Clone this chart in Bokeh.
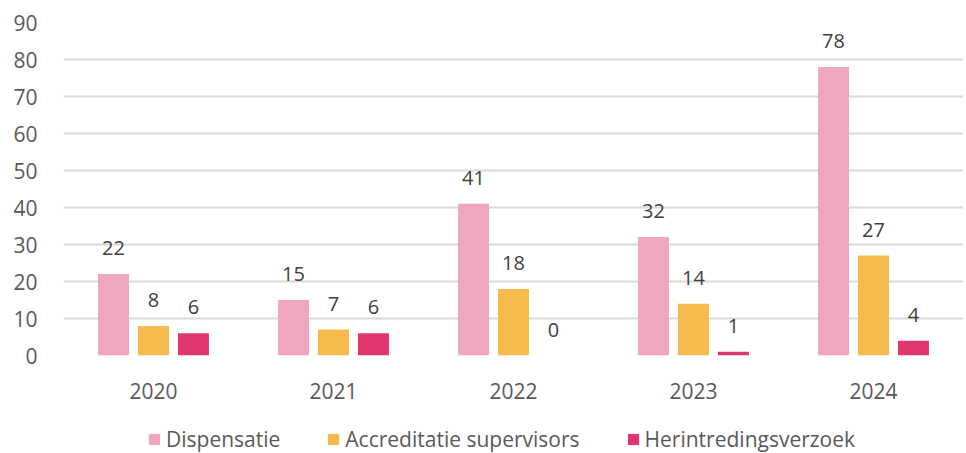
from bokeh.plotting import figure
from bokeh.layouts import column
from bokeh.models import ColumnDataSource, FactorRange, Legend, LegendItem, Range1d, FixedTicker, LabelSet
from bokeh.core.properties import value
from bokeh.transform import dodge
from bokeh.embed import file_html
from bokeh.resources import INLINE

years = ["2020", "2021", "2022", "2023", "2024"]
dispensatie = [22, 15, 41, 32, 78]
accreditatie = [8, 7, 18, 14, 27]
herintreding = [6, 6, 0, 1, 4]
series_names = ["Dispensatie", "Accreditatie supervisors", "Herintredingsverzoek"]
colors = ["#F0A5C0", "#F6BA4C", "#E0386C"]
y_ticks = list(range(0, 100, 10))

FONT = "Open Sans"
TEXT = "#595959"

src = ColumnDataSource(dict(
    years=years,
    d=dispensatie, a=accreditatie, h=herintreding,
    dl=[str(v) for v in dispensatie],
    al=[str(v) for v in accreditatie],
    hl=[str(v) for v in herintreding],
))
keys = [("d", -0.222), ("a", 0.0), ("h", 0.222)]

p = figure(x_range=FactorRange(*years), y_range=Range1d(0, 90),
           frame_width=900, frame_height=333, output_backend="svg", toolbar_location=None,
           min_border_left=63, min_border_right=0, min_border_top=22, min_border_bottom=65)
p.outline_line_color = None
p.background_fill_color = "white"
p.border_fill_color = "white"

for (key, off), col in zip(keys, colors):
    p.vbar(x=dodge("years", off, range=p.x_range), top=key, width=0.172,
           source=src, fill_color=col, line_color=None)
    lbl = LabelSet(x=dodge("years", off, range=p.x_range), y=key, text=key + "l",
                   source=src, text_align="center", text_baseline="alphabetic", y_offset=19,
                   text_font=value(FONT), text_font_size="20px", text_color="#404040")
    p.add_layout(lbl)

p.xgrid.grid_line_color = None
p.ygrid.grid_line_color = "#D9D9D9"
p.ygrid.grid_line_width = 2
p.yaxis.ticker = FixedTicker(ticks=y_ticks)
for ax in (p.xaxis, p.yaxis):
    ax.axis_line_color = None
    ax.major_tick_line_color = None
    ax.minor_tick_line_color = None
    ax.major_label_text_font = FONT
    ax.major_label_text_font_size = "21px"
    ax.major_label_text_color = TEXT
p.yaxis.major_label_standoff = 20
p.xaxis.major_label_standoff = 21
p.x_range.range_padding = 0
p.x_range.group_padding = 0

# legend strip: same series drawn out of view, only the legend swatches show
lg = figure(x_range=FactorRange(*years), y_range=Range1d(1000, 1001), frame_width=963, frame_height=33,
            output_backend="svg", toolbar_location=None,
            min_border_left=0, min_border_right=0, min_border_top=0, min_border_bottom=0)
lg.axis.visible = False
lg.grid.grid_line_color = None
lg.outline_line_color = None
lg.background_fill_color = "white"
items = []
for name, (key, off), col in zip(series_names, keys, colors):
    r = lg.vbar(x=dodge("years", off, range=lg.x_range), top=key, width=0.172,
                source=src, fill_color=col, line_color=None)
    items.append(LegendItem(label=name, renderers=[r]))
legend = Legend(items=items, orientation="horizontal", location=(147, 0),
                label_text_font=FONT, label_text_font_size="21px", label_text_color=TEXT,
                glyph_width=14, glyph_height=14, spacing=46, label_standoff=5,
                border_line_color=None, background_fill_alpha=0, padding=0, margin=0)
lg.add_layout(legend)

layout = column(p, lg, spacing=0)
open("out.html", "w").write(file_html(layout, INLINE))
